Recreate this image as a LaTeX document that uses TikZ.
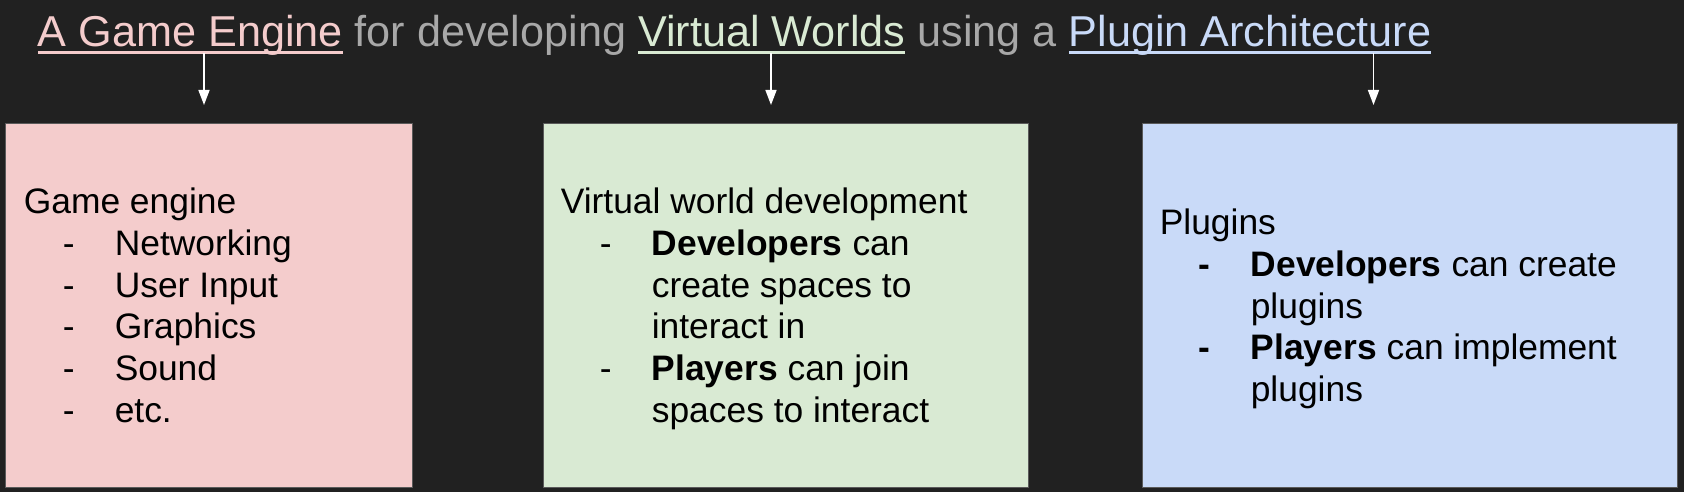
\documentclass[tikz,border=0pt]{standalone}
\usepackage{fontspec}
\setmainfont{Liberation Sans}
\usepackage{xcolor}
\usetikzlibrary{positioning,arrows.meta}
\definecolor{bgdark}{HTML}{212121}
\definecolor{engpink}{HTML}{F4CCCC}
\definecolor{worldgreen}{HTML}{D9EAD3}
\definecolor{plugblue}{HTML}{C9DAF8}
\definecolor{ttlgray}{HTML}{A8A8A8}
\definecolor{boxedge}{HTML}{5A5A5A}
\newcommand{\ulw}[2]{\textcolor{#1}{\setbox0\hbox{#2}\rlap{\rule[-7pt]{\wd0}{3pt}}\box0}}
\newcommand{\dsh}{\hspace*{39pt}-}
\newcommand{\bdsh}{\hspace*{39pt}\textbf{-}}

\begin{document}
\begin{tikzpicture}[x=1pt, y=1pt,
  box/.style={draw=boxedge, line width=1pt, inner sep=0pt, anchor=north west, minimum height=363.5pt},
  txt/.style={anchor=west, inner sep=0pt, text=black, font=\fontsize{35.4}{41.7}\selectfont},
  arr/.style={-{Triangle[length=15pt, width=11pt]}, line width=1.5pt, draw=white}]
\useasboundingbox (0,0) rectangle (1684,-492);
\fill[bgdark] (0,0) rectangle (1684,-492);
% title line
\node[anchor=base west, inner sep=0pt, text=ttlgray, font=\fontsize{43.2}{50}\selectfont] (ttl) at (37.6,-47)
  {\ulw{engpink}{A Game Engine} for developing \ulw{worldgreen}{Virtual Worlds} using a \ulw{plugblue}{Plugin Architecture}};
% the three boxes
\node[box, fill=engpink, minimum width=407pt] (gbox) at (5.4,-123.5) {};
\node[box, fill=worldgreen, minimum width=484.4pt] (wbox) at (543.4,-123.5) {};
\node[box, fill=plugblue, minimum width=535pt] (pbox) at (1141.6,-123.5) {};
\node[txt] (gtxt) at ([xshift=18.2pt, yshift=-4pt]gbox.west) {\begin{tabular}{@{}p{91pt}@{}l@{}}
  \multicolumn{2}{@{}l@{}}{Game engine}\\
  \dsh & Networking\\
  \dsh & User Input\\
  \dsh & Graphics\\
  \dsh & Sound\\
  \dsh & etc.
\end{tabular}};
\node[txt] (wtxt) at ([xshift=17.2pt, yshift=-4pt]wbox.west) {\begin{tabular}{@{}p{91pt}@{}l@{}}
  \multicolumn{2}{@{}l@{}}{Virtual world development}\\
  \dsh & \textbf{Developers} can\\
       & create spaces to\\
       & interact in\\
  \dsh & \textbf{Players} can join\\
       & spaces to interact
\end{tabular}};
\node[txt] (ptxt) at ([xshift=18pt, yshift=-4pt]pbox.west) {\begin{tabular}{@{}p{91pt}@{}l@{}}
  \multicolumn{2}{@{}l@{}}{Plugins}\\
  \bdsh & \textbf{Developers} can create\\
        & plugins\\
  \bdsh & \textbf{Players} can implement\\
        & plugins
\end{tabular}};
% arrows from the underlined words
\coordinate (engTop) at (204,-53);
\coordinate (engTip) at (204,-105);
\coordinate (worldTop) at (771,-53);
\coordinate (worldTip) at (771,-105);
\coordinate (plugTop) at (1373.5,-53);
\coordinate (plugTip) at (1373.5,-105);
\draw[arr] (engTop) -- (engTip);
\draw[arr] (worldTop) -- (worldTip);
\draw[arr] (plugTop) -- (plugTip);
\end{tikzpicture}
\end{document}
